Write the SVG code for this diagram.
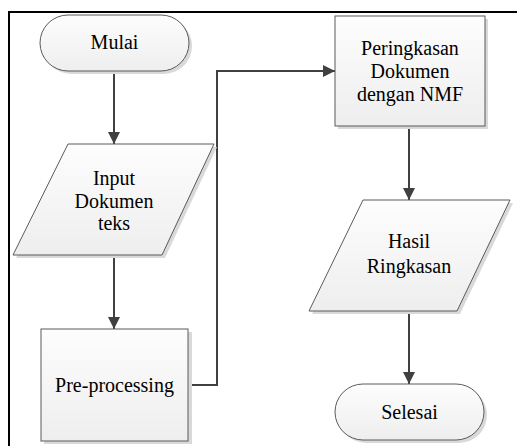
<svg xmlns="http://www.w3.org/2000/svg" width="517" height="446" viewBox="0 0 517 446">
<defs>
<linearGradient id="g" x1="0" y1="0" x2="0" y2="1">
<stop offset="0" stop-color="#fdfdfd"/>
<stop offset="1" stop-color="#eeeeee"/>
</linearGradient>
<marker id="ah" viewBox="0 0 12 12" refX="12" refY="6" markerWidth="12" markerHeight="12" markerUnits="userSpaceOnUse" orient="auto">
<path d="M0,0 L12,6 L0,12 Z" fill="#404040"/>
</marker>
</defs>
<style>
.shape{fill:url(#g);stroke:#5a5a5a;stroke-width:1}
.shadow{fill:#d9d9d9;stroke:none}
.t{font-family:'Liberation Serif','Times New Roman',serif;font-size:20px;fill:#000;text-anchor:middle}
.c{fill:none;stroke:#404040;stroke-width:2}
</style>
<rect x="0" y="0" width="517" height="446" fill="#fff"/>
<path d="M8,12 H517 M9,12 V446" stroke="#000" stroke-width="2" fill="none"/>
<g id="connectors">
<path class="c" d="M114,71 V144" marker-end="url(#ah)"/>
<path class="c" d="M114,255 V329" marker-end="url(#ah)"/>
<path class="c" d="M188,385 H217 V71 H335" marker-end="url(#ah)"/>
<path class="c" d="M409,126 V200" marker-end="url(#ah)"/>
<path class="c" d="M409,311 V384" marker-end="url(#ah)"/>
</g>
<g id="mulai">
<rect class="shadow" x="43" y="18" width="149" height="56" rx="28"/>
<rect class="shape" x="40" y="15" width="149" height="56" rx="28"/>
<text class="t" x="114.5" y="49">Mulai</text>
</g>
<g id="input">
<path class="shadow" d="M71,147 H217 L165,258 H16 Z"/>
<path class="shape" d="M68,144 H214 L162,255 H13 Z"/>
<text class="t" x="114" y="185">Input</text>
<text class="t" x="114" y="207.5">Dokumen</text>
<text class="t" x="114" y="230">teks</text>
</g>
<g id="preprocessing">
<rect class="shadow" x="44" y="332" width="148" height="112"/>
<rect class="shape" x="41" y="329" width="147" height="112"/>
<text class="t" x="114.5" y="392">Pre-processing</text>
</g>
<g id="peringkasan">
<rect class="shadow" x="338" y="19" width="150" height="110"/>
<rect class="shape" x="335" y="16" width="150" height="110"/>
<text class="t" x="410" y="55">Peringkasan</text>
<text class="t" x="410" y="78">Dokumen</text>
<text class="t" x="410" y="101">dengan NMF</text>
</g>
<g id="hasil">
<path class="shadow" d="M366,203 H513 L460,314 H312 Z"/>
<path class="shape" d="M363,200 H510 L457,311 H309 Z"/>
<text class="t" x="409" y="248">Hasil</text>
<text class="t" x="409" y="273">Ringkasan</text>
</g>
<g id="selesai">
<rect class="shadow" x="338" y="387" width="149" height="56" rx="28"/>
<rect class="shape" x="335" y="384" width="149" height="56" rx="28"/>
<text class="t" x="409.5" y="419">Selesai</text>
</g>
</svg>
